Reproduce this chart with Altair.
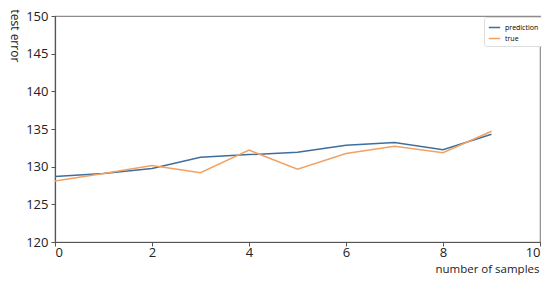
import altair as alt
import pandas as pd

samples = list(range(10))
prediction = [128.7, 129.1, 129.75, 131.25, 131.6, 131.9, 132.85, 133.2, 132.25, 134.3]
true_vals = [128.1, 129.1, 130.15, 129.2, 132.2, 129.65, 131.75, 132.7, 131.85, 134.7]
series_names = ["prediction", "true"]
colors = ["#3e6f9c", "#f2a160"]
x_ticks = [0, 2, 4, 6, 8, 10]
y_ticks = [120, 125, 130, 135, 140, 145, 150]

rows = []
for name, vals in zip(series_names, [prediction, true_vals]):
    for s, v in zip(samples, vals):
        rows.append({"samples": s, "error": v, "series": name})
df = pd.DataFrame(rows)

FONT = "Open Sans"

chart = alt.Chart(df).mark_line(strokeWidth=1.5).encode(
    x=alt.X("samples:Q",
            scale=alt.Scale(domain=[0, 10], nice=False),
            axis=alt.Axis(values=x_ticks, title="number of  samples", grid=False,
                          labelFlush=True, labelPadding=0,
                          titleAnchor="end", titleAlign="right", titleFontSize=11.5,
                          titleX=484, titleY=32, titleBaseline="bottom")),
    y=alt.Y("error:Q",
            scale=alt.Scale(domain=[120, 150], nice=False, zero=False),
            axis=alt.Axis(values=y_ticks, title="test error", grid=False,
                          labelPadding=3,
                          titleAngle=90, titleAlign="left", titleBaseline="middle",
                          titleX=-41, titleY=-7)),
    color=alt.Color("series:N",
                    scale=alt.Scale(domain=series_names, range=colors),
                    legend=alt.Legend(title=None, orient="none", legendX=429, legendY=1,
                                      symbolType="stroke", symbolSize=130,
                                      symbolStrokeWidth=1.5, labelFontSize=7,
                                      labelFont=FONT, fillColor="white",
                                      strokeColor="#dddddd", padding=4,
                                      rowPadding=1, cornerRadius=2)),
).properties(
    width=485, height=226,
    autosize=alt.AutoSizeParams(type="none"),
    padding={"left": 47, "top": 8, "right": 2, "bottom": 33},
).configure_view(
    stroke="#8c8c8c", strokeWidth=1.2
).configure_axis(
    labelFont=FONT, labelFontSize=13, labelColor="#222222",
    titleFont=FONT, titleFontSize=12, titleFontWeight="normal", titleColor="#222222",
    domainColor="#555555", domainWidth=1.2, tickColor="#555555", tickSize=4,
)

chart.save("out.html", embed_options={"renderer": "svg", "actions": False})
